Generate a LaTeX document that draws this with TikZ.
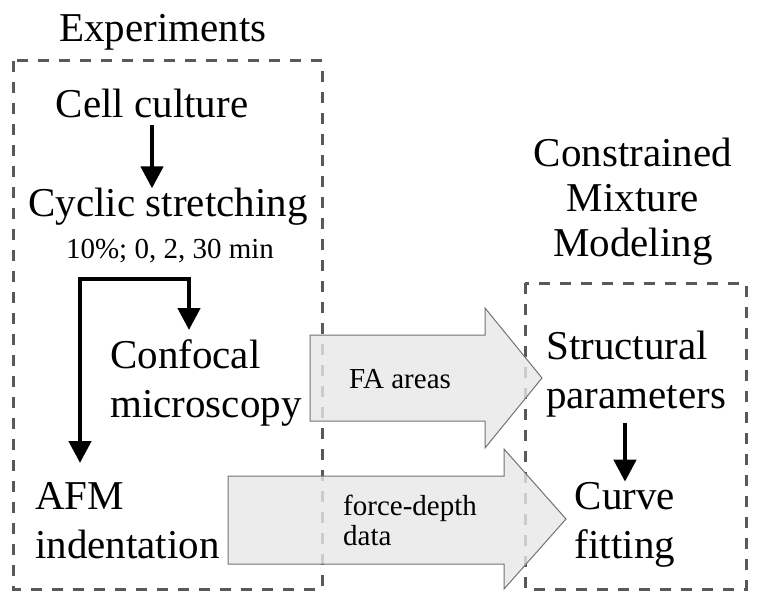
\documentclass[tikz,border=0pt]{standalone}
\usepackage{fontspec}
\setmainfont{Liberation Serif}
\usetikzlibrary{arrows.meta,calc}
\begin{document}
\begin{tikzpicture}[x=1pt,y=-1pt,
  big/.style={font=\fontsize{41}{49}\selectfont, inner sep=0pt},
  small/.style={font=\fontsize{29}{30}\selectfont, inner sep=0pt},
  flow/.style={line width=4.5pt, -{Triangle[length=22pt,width=22pt]}},
  dbox/.style={draw=black!65, line width=3pt, dash pattern=on 11pt off 10pt},
  blockarrow/.style={fill=black!9, draw=black!55, line width=1pt, fill opacity=0.8}]
\useasboundingbox (0,0) rectangle (768,604);
\fill[white] (0,0) rectangle (768,604);

% dashed groups
\draw[dbox] (13,61) rectangle (322,589);
\draw[dbox] (525,283) rectangle (746,589);

% block arrows
\path[blockarrow] (310,335) -- (485,335) -- (485,308) -- (542,378) -- (485,448) -- (485,421) -- (310,421) -- cycle;
\path[blockarrow] (228,476) -- (504,476) -- (504,449) -- (566,519) -- (504,589) -- (504,564) -- (228,564) -- cycle;

% texts
\node[big, anchor=base] (exp) at (163,42) {Experiments};
\node[big, anchor=base] (cell) at (152,118) {Cell culture};
\node[big, anchor=base] (cyc) at (168,217) {Cyclic stretching};
\node[small, anchor=base] (par) at (170,258) {10\%; 0, 2, 30 min};
\node[big, anchor=base west, align=left] (conf) at (110,417) {Confocal\\microscopy};
\node[big, anchor=base west, align=left] (afm) at (35,558) {AFM\\indentation};
\node[big, anchor=base, align=center, font=\fontsize{41}{45}\selectfont] (cmm) at (633,256) {Constrained\\Mixture\\Modeling};
\node[big, anchor=base west, align=left] (struct) at (546,408) {Structural\\parameters};
\node[big, anchor=base, align=center] (curve) at (625,558) {Curve\\fitting};
\node[small, anchor=base west] (fa) at (349,388) {FA areas};
\node[small, anchor=base west, align=left] (fd) at (343,545) {force-depth\\data};

% arrows
\coordinate (e1) at (80,463);
\coordinate (e2) at (80,279);
\coordinate (e3) at (189,279);
\coordinate (e4) at (189,330);
\draw[flow, shorten <=6pt] (cell.south) -- (cell.south |- cyc.north);
\draw[line width=4.5pt, {Triangle[length=22pt,width=22pt]}-{Triangle[length=22pt,width=22pt]}] (e1) -- (e2) -- (e3) -- (e4);
\draw[flow, shorten <=6pt] (struct.south -| curve.north) -- (curve.north);
\end{tikzpicture}
\end{document}
